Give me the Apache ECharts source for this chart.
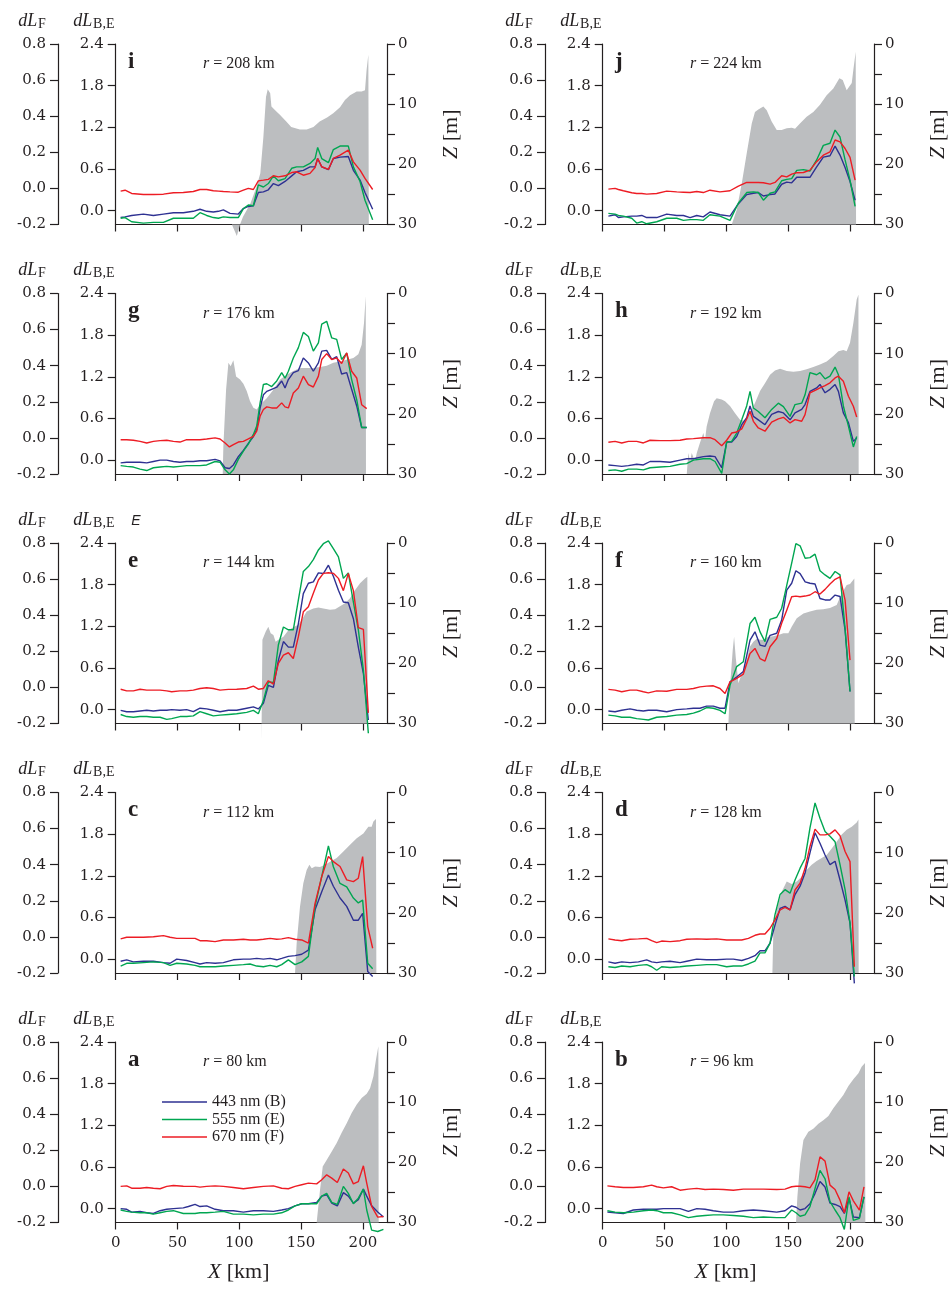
<!DOCTYPE html>
<html>
<head>
<meta charset="utf-8">
<script src="https://cdn.jsdelivr.net/npm/echarts@6.0.0/dist/echarts.min.js"></script>
<style>
html, body { margin: 0; padding: 0; background: #fff; }
#chart { width: 951px; height: 1295px; }
</style>
</head>
<body>
<div id="chart"></div>
<script>
// tick values
const xTicks = [0, 50, 100, 150, 200];
const fTicks = [-0.2, 0, 0.2, 0.4, 0.6, 0.8];
const beTicks = [0, 0.6, 1.2, 1.8, 2.4];
const zTicks = [0, 5, 10, 15, 20, 25, 30];
const zLabels = [0, 10, 20, 30];
const names = ['443 nm (B)', '555 nm (E)', '670 nm (F)'];

// panel i, r = 208 km
const iX = [4, 7.6, 12.9, 22.4, 30.5, 38.6, 46.7, 54.7, 62.8, 68.2, 73.6, 79, 83.1, 87.1, 92.5, 99.2, 103.3, 107.3, 111.4, 115.4, 119.5, 123.5, 127.6, 131.6, 137, 142.4, 146.4, 151.8, 157.2, 161.3, 163.4, 166.7, 172.1, 176.1, 181.5, 188.2, 192.3, 197.7, 201.7, 207.9];
const iB = [-0.10, -0.09, -0.07, -0.05, -0.07, -0.05, -0.03, -0.03, -0.01, 0.02, -0.01, -0.02, -0.01, 0.01, -0.04, -0.05, 0.03, 0.06, 0.07, 0.26, 0.27, 0.30, 0.39, 0.36, 0.42, 0.50, 0.56, 0.58, 0.63, 0.63, 0.75, 0.63, 0.59, 0.75, 0.77, 0.78, 0.58, 0.44, 0.26, 0.02];
const iE = [-0.11, -0.10, -0.16, -0.18, -0.17, -0.17, -0.11, -0.11, -0.11, -0.03, -0.07, -0.10, -0.11, -0.09, -0.10, -0.10, 0.03, 0.08, 0.07, 0.37, 0.34, 0.39, 0.50, 0.43, 0.46, 0.61, 0.63, 0.63, 0.68, 0.75, 0.91, 0.75, 0.69, 0.88, 0.93, 0.93, 0.63, 0.42, 0.15, -0.13];
const iF = [-0.015, -0.01, -0.028, -0.034, -0.034, -0.032, -0.024, -0.023, -0.017, -0.006, -0.006, -0.013, -0.015, -0.017, -0.019, -0.021, -0.01, 0.0, -0.006, 0.042, 0.046, 0.05, 0.07, 0.064, 0.07, 0.088, 0.092, 0.073, 0.083, 0.116, 0.166, 0.12, 0.105, 0.166, 0.184, 0.212, 0.147, 0.101, 0.055, -0.006];
const iDX = [94, 98, 100.6, 103, 109, 114, 117, 119.5, 121.6, 123, 125, 126, 129, 133, 138, 142, 149, 154.5, 160, 165, 171, 176, 181.5, 185.5, 189.6, 195, 199, 201.7, 203, 204.4, 204.8];
const iDZ = [30, 31.9, 30, 28.7, 26.5, 23.7, 21.5, 15.4, 8.8, 7.5, 8.2, 10.4, 11.0, 11.8, 12.9, 13.8, 14.2, 14.2, 13.8, 12.9, 12.2, 11.5, 10.5, 9.3, 8.5, 7.9, 7.9, 7.7, 4.3, 1.8, 30];

// panel j, r = 224 km
const jX = [4.6, 10, 12.7, 16.7, 23.5, 27.5, 31.6, 35.6, 43.7, 51.8, 59.9, 65.3, 70.7, 76.1, 81.4, 86.8, 94.9, 103, 109.8, 116.5, 121.9, 125.9, 130, 135.4, 139.4, 144.8, 148.9, 152.9, 157, 162.4, 167.7, 173.1, 178.5, 183.9, 188, 192, 196.1, 200.1, 204.2];
const jB = [-0.08, -0.06, -0.10, -0.09, -0.08, -0.08, -0.07, -0.10, -0.10, -0.05, -0.07, -0.07, -0.10, -0.07, -0.09, -0.02, -0.06, -0.08, 0.10, 0.23, 0.25, 0.26, 0.21, 0.23, 0.24, 0.38, 0.41, 0.40, 0.48, 0.48, 0.48, 0.63, 0.77, 0.79, 0.93, 0.80, 0.62, 0.42, 0.15];
const jE = [-0.04, -0.05, -0.07, -0.08, -0.11, -0.18, -0.16, -0.19, -0.16, -0.11, -0.11, -0.14, -0.13, -0.13, -0.14, -0.06, -0.08, -0.14, 0.11, 0.26, 0.27, 0.26, 0.15, 0.25, 0.27, 0.43, 0.45, 0.46, 0.58, 0.59, 0.57, 0.73, 0.94, 0.97, 1.16, 1.06, 0.73, 0.44, 0.06];
const jF = [-0.004, 0.0, -0.006, -0.013, -0.024, -0.028, -0.028, -0.032, -0.028, -0.015, -0.019, -0.021, -0.023, -0.017, -0.023, -0.010, -0.019, -0.013, 0.013, 0.033, 0.033, 0.033, 0.031, 0.024, 0.033, 0.070, 0.064, 0.079, 0.087, 0.088, 0.101, 0.148, 0.184, 0.203, 0.268, 0.258, 0.221, 0.172, 0.046];
const jDX = [104.4, 108.4, 112.5, 116.5, 120.6, 123.2, 125.9, 130, 132.7, 136.7, 140.8, 144.8, 148.9, 152.9, 155.6, 159.6, 165, 170.4, 175.8, 181.2, 186.6, 191.5, 194.2, 197.4, 198.8, 201.5, 202.8, 204.7, 205];
const jDZ = [30, 27.6, 23.2, 18.2, 13.2, 11.3, 10.9, 10.4, 11.0, 12.9, 14.3, 14.3, 14.0, 13.9, 14.1, 13.2, 12.1, 11.3, 10.1, 8.5, 7.4, 5.7, 6.0, 7.7, 7.9, 6.5, 4.3, 1.3, 30];

// panel g, r = 176 km
const gX = [4, 8.9, 14.3, 19.7, 25.1, 30.5, 35.9, 41.3, 46.7, 52, 57.4, 62.8, 68.2, 73.6, 80.4, 84.4, 88.5, 92, 95.2, 99.2, 103.3, 107.3, 111.4, 114.1, 116.8, 119.5, 122.2, 126.2, 130.3, 134.3, 137, 139.7, 143.7, 147.8, 151.8, 155.9, 159.9, 164, 166.7, 170.7, 174.8, 178.8, 182.8, 186.9, 190.9, 195, 199, 203.1];
const gB = [-0.04, -0.03, -0.03, -0.03, -0.04, -0.02, 0.0, 0.0, -0.02, -0.03, -0.02, -0.02, -0.01, -0.01, 0.01, -0.01, -0.11, -0.12, -0.07, 0.05, 0.14, 0.24, 0.34, 0.44, 0.75, 0.94, 0.99, 1.02, 1.05, 1.14, 1.04, 1.16, 1.26, 1.29, 1.47, 1.40, 1.28, 1.40, 1.57, 1.58, 1.45, 1.49, 1.24, 1.26, 1.02, 0.78, 0.47, 0.47];
const gE = [-0.08, -0.09, -0.10, -0.13, -0.15, -0.11, -0.10, -0.09, -0.10, -0.09, -0.08, -0.08, -0.08, -0.07, -0.02, -0.03, -0.14, -0.20, -0.14, 0.01, 0.13, 0.23, 0.37, 0.49, 0.82, 1.09, 1.10, 1.06, 1.14, 1.26, 1.18, 1.28, 1.47, 1.62, 1.84, 1.78, 1.57, 1.69, 1.96, 2.00, 1.76, 1.74, 1.45, 1.54, 1.16, 0.87, 0.47, 0.47];
const gF = [-0.01, -0.01, -0.013, -0.019, -0.028, -0.019, -0.015, -0.013, -0.019, -0.023, -0.01, -0.01, -0.01, -0.006, 0.0, -0.006, -0.028, -0.05, -0.037, -0.023, -0.019, -0.006, 0.009, 0.037, 0.12, 0.157, 0.172, 0.166, 0.166, 0.194, 0.172, 0.166, 0.249, 0.277, 0.342, 0.295, 0.282, 0.342, 0.434, 0.467, 0.434, 0.443, 0.412, 0.471, 0.369, 0.332, 0.184, 0.162];
const gDX = [86.6, 87.1, 89.3, 91.2, 93.0, 95.2, 97.4, 100.6, 103.3, 106.0, 108.7, 111.4, 114.1, 116.8, 122.2, 127.6, 133.0, 138.4, 143.7, 149.1, 154.5, 159.9, 165.3, 170.7, 176.1, 181.5, 186.9, 192.3, 196.3, 199.0, 200.9, 202.3, 202.5];
const gDZ = [30, 25.4, 16.0, 11.5, 12.1, 11.1, 13.8, 14.3, 15.0, 16.2, 17.9, 19.0, 19.3, 18.5, 17.4, 16.0, 14.3, 13.5, 12.9, 12.4, 12.4, 12.4, 12.2, 12.0, 11.5, 11.3, 11.0, 10.7, 10.1, 8.5, 4.9, 0.4, 30];

// panel h, r = 192 km
const hX = [4.6, 10, 15.4, 20.8, 27.5, 32.9, 38.3, 46.4, 54.5, 62.6, 68, 73.4, 81.4, 86.8, 90.9, 96.3, 100.3, 104.4, 108.4, 112.5, 116.5, 119.2, 121.9, 125.9, 131.3, 136.7, 142.1, 146.2, 151.6, 155.6, 161, 163.7, 167.7, 173.1, 175.8, 179.9, 183.9, 188, 190.7, 194.7, 198.8, 202.8, 205.5];
const hB = [-0.07, -0.08, -0.09, -0.08, -0.06, -0.07, -0.02, -0.02, -0.03, 0.00, 0.02, 0.02, 0.05, 0.06, 0.05, -0.11, 0.26, 0.26, 0.34, 0.51, 0.61, 0.78, 0.63, 0.58, 0.51, 0.66, 0.70, 0.68, 0.58, 0.68, 0.73, 0.80, 0.99, 1.04, 1.09, 0.97, 1.02, 1.09, 0.99, 0.68, 0.54, 0.27, 0.32];
const hE = [-0.15, -0.14, -0.16, -0.13, -0.13, -0.14, -0.11, -0.10, -0.09, -0.06, -0.05, 0.00, 0.02, 0.02, -0.02, -0.19, 0.26, 0.27, 0.39, 0.58, 0.78, 0.99, 0.75, 0.70, 0.61, 0.73, 0.82, 0.77, 0.63, 0.80, 0.82, 0.94, 1.26, 1.23, 1.26, 1.17, 1.21, 1.34, 1.23, 0.78, 0.49, 0.19, 0.34];
const hF = [-0.024, -0.019, -0.028, -0.019, -0.019, -0.028, -0.013, -0.015, -0.015, -0.013, -0.006, -0.004, 0.001, 0.001, -0.01, -0.043, -0.013, 0.027, 0.033, 0.05, 0.105, 0.148, 0.092, 0.055, 0.037, 0.087, 0.105, 0.114, 0.083, 0.101, 0.092, 0.129, 0.249, 0.268, 0.277, 0.29, 0.305, 0.332, 0.342, 0.314, 0.231, 0.175, 0.116];
const hDX = [68, 69.3, 70.7, 72, 74.7, 76.1, 78.7, 81.4, 82.8, 84.1, 86.8, 90.1, 92.2, 96.3, 99, 103, 107.1, 111.1, 115.2, 119.2, 123.2, 127.3, 131.3, 135.4, 139.4, 143.5, 148.9, 154.3, 159.7, 165, 170.4, 175.8, 181.2, 186.6, 190.7, 194.7, 197.4, 200.1, 202.8, 205.5, 206.9, 207.1];
const hDZ = [30, 26.5, 27.9, 26.5, 27.9, 26.5, 24.8, 23.2, 24.3, 22.1, 19.9, 17.9, 17.4, 17.6, 17.9, 18.7, 19.9, 21.0, 21.2, 19.9, 18.2, 16.2, 14.9, 13.5, 12.8, 12.5, 12.9, 13.0, 12.9, 12.6, 12.2, 11.8, 11.3, 10.4, 9.6, 9.4, 9.6, 8.2, 4.9, 1.0, 0.2, 30];

// panel e, r = 144 km
const eX = [4, 8.9, 14.3, 19.7, 25.1, 30.5, 35.9, 41.3, 45.3, 52, 57.4, 62.8, 68.2, 73.6, 79, 84.4, 91.2, 97.9, 106, 111.4, 115.4, 119.5, 123.5, 127.6, 131.6, 135.7, 139.7, 143.7, 147.8, 151.8, 155.9, 159.9, 164, 168, 172.1, 176.1, 180.2, 184.2, 188.2, 192.3, 196.3, 200.4, 204.4];
const eB = [-0.01, -0.03, -0.03, -0.02, -0.01, -0.02, -0.01, -0.01, 0.00, -0.01, 0.00, -0.03, 0.02, 0.01, -0.01, -0.03, -0.01, -0.01, 0.02, 0.04, 0.01, 0.09, 0.35, 0.32, 0.71, 0.98, 0.90, 0.90, 1.24, 1.67, 1.82, 1.84, 1.97, 1.96, 2.08, 1.92, 1.72, 1.55, 1.54, 1.31, 0.90, 0.52, -0.15];
const eE = [-0.07, -0.10, -0.11, -0.10, -0.10, -0.11, -0.11, -0.14, -0.13, -0.10, -0.10, -0.09, -0.03, -0.06, -0.09, -0.08, -0.07, -0.06, -0.04, -0.01, -0.06, 0.13, 0.40, 0.39, 0.93, 1.19, 1.15, 1.15, 1.58, 1.99, 2.06, 2.16, 2.30, 2.39, 2.43, 2.32, 2.20, 1.89, 1.97, 1.55, 1.15, 0.57, -0.34];
const eF = [-0.01, -0.019, -0.019, -0.01, -0.015, -0.015, -0.015, -0.019, -0.024, -0.019, -0.019, -0.015, -0.006, -0.002, -0.006, -0.015, -0.011, -0.01, -0.006, 0.007, -0.01, -0.006, 0.037, 0.018, 0.133, 0.179, 0.192, 0.16, 0.281, 0.419, 0.447, 0.521, 0.595, 0.632, 0.635, 0.632, 0.604, 0.536, 0.632, 0.536, 0.331, 0.321, -0.141];
const eDX = [117.9, 118.7, 121.4, 123.5, 125.4, 127.6, 129.4, 131.6, 135.7, 139.7, 143.7, 147.8, 150.5, 154.5, 159.9, 164, 168, 173.4, 177.5, 181.5, 185.5, 189.6, 193.7, 197.7, 201.7, 203.6, 203.9];
const eDZ = [33.3, 16.1, 14.7, 13.9, 15.0, 15.3, 16.4, 16.1, 15.6, 14.5, 14.0, 13.6, 12.8, 11.4, 10.9, 10.7, 10.9, 11.1, 11.0, 10.5, 10.0, 9.2, 7.8, 6.7, 5.9, 5.6, 30];

// panel f, r = 160 km
const fX = [4.6, 10, 15.4, 22.1, 27.5, 32.9, 36.9, 43.7, 51.8, 59.9, 68, 73.4, 78.7, 84.1, 89.5, 94.9, 99, 103, 108.4, 113.8, 119.2, 123.2, 127.3, 131.3, 135.4, 140.8, 144.8, 148.9, 152.9, 156.3, 159.7, 163.8, 167.7, 171.8, 175.8, 179.9, 183.9, 188, 192, 196.1, 200.1];
const fB = [-0.02, -0.03, -0.01, 0.01, -0.01, -0.02, -0.01, -0.01, -0.03, 0.00, 0.01, 0.02, 0.02, 0.05, 0.05, 0.02, 0.02, 0.40, 0.47, 0.55, 1.00, 1.12, 0.93, 0.91, 1.07, 1.10, 1.29, 1.72, 1.82, 2.00, 1.96, 1.84, 1.82, 1.81, 1.60, 1.58, 1.58, 1.65, 1.63, 1.15, 0.26];
const fE = [-0.08, -0.09, -0.11, -0.11, -0.13, -0.14, -0.15, -0.11, -0.10, -0.08, -0.07, -0.05, -0.02, 0.03, 0.02, -0.01, -0.06, 0.35, 0.62, 0.69, 1.24, 1.33, 1.12, 0.98, 1.30, 1.33, 1.46, 1.79, 2.11, 2.39, 2.36, 2.18, 2.19, 2.24, 2.00, 1.94, 1.89, 1.99, 1.94, 1.17, 0.26];
const fF = [-0.011, -0.015, -0.024, -0.015, -0.015, -0.024, -0.03, -0.019, -0.021, -0.011, -0.011, -0.006, 0.003, 0.007, 0.009, -0.006, -0.034, 0.031, 0.05, 0.074, 0.188, 0.216, 0.16, 0.146, 0.225, 0.271, 0.355, 0.428, 0.502, 0.506, 0.502, 0.506, 0.512, 0.53, 0.517, 0.543, 0.573, 0.599, 0.613, 0.484, 0.151];
const fDX = [101.7, 103, 105.2, 106.3, 107.6, 109.8, 111.7, 113.8, 116.5, 119.2, 121.9, 124.6, 127.3, 130, 134, 138.1, 142.1, 146.2, 150.2, 152.9, 157, 162.4, 167.7, 173.1, 178.5, 183.9, 189.3, 193.4, 197.4, 200.1, 203.6, 203.9];
const fDZ = [30, 23.9, 17.8, 15.6, 18.9, 23.3, 22.2, 21.1, 19.5, 17.2, 16.4, 15.9, 16.1, 16.1, 15.6, 15.5, 15.3, 15.0, 15.0, 13.9, 12.5, 11.7, 11.4, 11.1, 11.0, 10.8, 10.3, 8.4, 7.0, 6.8, 5.9, 30];

// panel c, r = 112 km
const cX = [4, 8.9, 14.3, 22.4, 30.5, 38.6, 44, 49.4, 57.4, 64.2, 68.2, 73.6, 80.4, 87.1, 95.2, 103.3, 108.7, 114.1, 119.5, 124.9, 130.3, 134.3, 139.7, 145.1, 150.5, 155.9, 161.3, 166.7, 172.1, 176.1, 181.5, 186.9, 192.3, 196.3, 199.8, 203.9, 207.9];
const cB = [-0.03, -0.01, -0.04, -0.03, -0.03, -0.05, -0.06, 0.00, -0.02, -0.05, -0.07, -0.05, -0.06, -0.05, -0.01, 0.00, 0.00, 0.01, 0.00, 0.01, -0.01, 0.01, 0.04, 0.05, 0.07, 0.13, 0.71, 0.97, 1.21, 1.05, 0.88, 0.76, 0.56, 0.56, 0.66, -0.18, -0.25];
const cE = [-0.10, -0.06, -0.06, -0.05, -0.04, -0.05, -0.09, -0.06, -0.07, -0.09, -0.11, -0.11, -0.11, -0.10, -0.09, -0.08, -0.07, -0.10, -0.11, -0.09, -0.11, -0.08, -0.01, -0.08, -0.04, 0.04, 0.76, 1.19, 1.63, 1.33, 1.09, 1.04, 0.88, 0.81, 0.85, -0.06, -0.14];
const cF = [-0.011, -0.002, -0.002, -0.002, 0.001, 0.007, -0.002, -0.008, -0.008, -0.008, -0.021, -0.021, -0.026, -0.017, -0.017, -0.013, -0.017, -0.017, -0.013, -0.008, -0.013, -0.011, -0.004, -0.013, -0.017, -0.035, 0.186, 0.334, 0.445, 0.417, 0.39, 0.316, 0.306, 0.325, 0.445, 0.057, -0.063];
const cDX = [145.1, 146.4, 149.1, 151.8, 154.5, 156.7, 158.6, 161.3, 165.3, 169.4, 173.4, 178.8, 184.2, 189.6, 195, 200.4, 204.4, 207.1, 208.5, 210.6, 210.9];
const cDZ = [30, 25.1, 19.0, 15.1, 12.9, 12.0, 12.6, 12.3, 12.4, 12.0, 11.5, 10.9, 9.8, 8.7, 7.6, 6.8, 5.7, 5.7, 4.8, 4.4, 30];

// panel d, r = 128 km
const dX = [4.6, 10, 15.4, 22.1, 28.9, 35.6, 39.6, 43.7, 47.7, 54.5, 62.6, 68, 76.1, 84.1, 92.2, 100.3, 105.7, 112.5, 117.9, 123.2, 127.3, 131.3, 135.4, 139.4, 143.5, 147.5, 151.6, 155.6, 159.7, 163.7, 167.7, 171.8, 175.8, 179.9, 183.9, 188, 192, 196.1, 200.1, 203.6];
const dB = [-0.04, -0.06, -0.04, -0.05, -0.04, -0.01, -0.04, -0.05, -0.04, -0.03, -0.05, -0.03, 0.00, -0.01, -0.01, 0.00, 0.00, -0.02, 0.01, 0.05, 0.12, 0.12, 0.23, 0.49, 0.73, 0.76, 0.71, 0.93, 1.05, 1.24, 1.53, 1.82, 1.67, 1.50, 1.36, 1.41, 1.14, 0.85, 0.52, -0.35];
const dE = [-0.11, -0.12, -0.10, -0.11, -0.09, -0.08, -0.11, -0.16, -0.11, -0.12, -0.11, -0.10, -0.09, -0.08, -0.08, -0.11, -0.10, -0.10, -0.07, -0.03, 0.09, 0.09, 0.23, 0.64, 0.93, 1.00, 0.95, 1.14, 1.31, 1.45, 1.89, 2.25, 2.03, 1.84, 1.77, 1.69, 1.36, 1.00, 0.52, -0.25];
const dF = [-0.011, -0.017, -0.021, -0.013, -0.011, -0.008, -0.021, -0.032, -0.023, -0.026, -0.021, -0.013, -0.011, -0.013, -0.011, -0.017, -0.017, -0.017, -0.008, 0.009, 0.016, 0.016, 0.048, 0.094, 0.149, 0.164, 0.149, 0.26, 0.297, 0.38, 0.501, 0.597, 0.565, 0.565, 0.571, 0.593, 0.56, 0.473, 0.417, -0.165];
const dDX = [137.3, 138.1, 140.8, 144.8, 148.9, 152.9, 157, 161, 165, 169.1, 173.1, 177.2, 181.2, 185.3, 189.3, 193.4, 197.4, 201.5, 205.5, 206.9, 207.1];
const dDZ = [30, 22.8, 19.5, 16.5, 14.8, 15.2, 14.8, 14.0, 12.9, 12.0, 11.4, 10.9, 10.4, 9.3, 8.2, 7.0, 6.2, 5.7, 5.0, 4.5, 30];

// panel a, r = 80 km
const aX = [4, 8.9, 12.9, 19.7, 25.1, 30.5, 35.9, 41.3, 46.7, 54.7, 58.8, 64.2, 68.2, 73.6, 80.4, 87.1, 95.2, 103.3, 111.4, 119.5, 127.6, 134.3, 139.7, 145.1, 150.5, 155.9, 162.6, 166.7, 170.7, 174.8, 179.3, 184.2, 188.2, 192.3, 196.3, 200.4, 203.1, 207.1, 212, 216.6];
const aB = [0.00, -0.01, -0.05, -0.04, -0.06, -0.07, -0.03, -0.01, 0.00, 0.01, 0.03, 0.06, 0.03, 0.04, -0.01, -0.03, -0.03, -0.05, -0.03, -0.03, -0.04, -0.02, 0.00, 0.04, 0.07, 0.07, 0.09, 0.18, 0.20, 0.08, 0.04, 0.23, 0.18, 0.08, 0.13, 0.28, 0.18, 0.04, -0.05, -0.12];
const aE = [-0.02, -0.04, -0.05, -0.06, -0.06, -0.08, -0.06, -0.04, -0.03, -0.07, -0.07, -0.07, -0.06, -0.06, -0.05, -0.04, -0.08, -0.08, -0.09, -0.08, -0.08, -0.06, -0.02, 0.04, 0.07, 0.07, 0.07, 0.18, 0.22, 0.09, 0.06, 0.32, 0.22, 0.07, 0.15, 0.28, -0.02, -0.31, -0.33, -0.30];
const aF = [0.0, 0.003, -0.01, -0.01, -0.006, -0.01, -0.013, 0.0, 0.005, 0.001, 0.0, 0.0, -0.004, 0.0, 0.003, 0.0, -0.006, -0.013, -0.006, 0.0, 0.003, -0.01, -0.013, 0.0, 0.009, 0.018, 0.014, 0.037, 0.064, 0.046, 0.022, 0.096, 0.074, 0.014, 0.027, 0.114, 0.018, -0.111, -0.17, -0.167];
const aDX = [162.6, 165.3, 167.5, 170.7, 174.8, 178.8, 182.8, 186.9, 190.9, 195, 199, 203.1, 205.8, 208.5, 210.6, 212.5, 212.8];
const aDZ = [30, 24.6, 20.7, 19.6, 18.2, 16.8, 15.1, 13.5, 11.8, 10.4, 9.3, 8.6, 7.7, 5.7, 2.9, 0.7, 30];

// panel b, r = 96 km
const bX = [3.8, 10, 16.7, 24.8, 32.9, 39.6, 43.7, 49.1, 55.8, 62.6, 69.3, 76.1, 82.8, 89.5, 97.6, 105.7, 113.8, 121.9, 130, 140.8, 147.5, 152.9, 156.4, 159.7, 163.7, 167.7, 171.8, 175.8, 179.9, 183.9, 188, 192, 195.5, 199.3, 202.8, 207.7, 211.4];
const bB = [-0.05, -0.06, -0.07, -0.02, -0.01, -0.01, -0.01, 0.00, 0.00, 0.00, -0.04, 0.00, -0.01, -0.03, -0.05, -0.05, -0.03, -0.02, -0.03, -0.05, -0.03, 0.04, 0.02, -0.02, 0.00, 0.07, 0.22, 0.39, 0.31, 0.08, 0.06, 0.03, -0.07, 0.15, -0.12, -0.13, 0.17];
const bE = [-0.03, -0.05, -0.06, -0.05, -0.03, -0.02, -0.03, -0.06, -0.06, -0.09, -0.13, -0.11, -0.10, -0.09, -0.09, -0.10, -0.11, -0.13, -0.12, -0.13, -0.13, -0.02, -0.06, -0.11, -0.09, 0.03, 0.29, 0.55, 0.43, 0.10, -0.02, -0.13, -0.30, 0.17, -0.17, -0.14, 0.17];
const bF = [0.003, -0.002, -0.006, -0.006, -0.002, 0.007, -0.002, -0.008, -0.002, -0.021, -0.015, -0.011, -0.017, -0.015, -0.017, -0.021, -0.015, -0.015, -0.015, -0.017, -0.015, -0.002, 0.001, 0.001, -0.002, -0.008, 0.038, 0.164, 0.14, 0.007, -0.017, -0.076, -0.146, -0.03, -0.08, -0.132, -0.002];
const bDX = [156.4, 157.5, 159.7, 162.4, 166.4, 170.4, 174.5, 178.5, 182.6, 186.6, 190.7, 194.7, 198.8, 202.8, 206.9, 209.5, 212.2, 212.5];
const bDZ = [30, 25.7, 20.2, 16.3, 14.9, 14.4, 13.6, 13.0, 12.3, 11.0, 9.9, 8.8, 7.3, 6.2, 5.2, 4.1, 3.5, 30];

const panels = [
    {key: 'i', r: 208, row: 0, col: 0, X: iX, B: iB, E: iE, F: iF, DX: iDX, DZ: iDZ},
    {key: 'j', r: 224, row: 0, col: 1, X: jX, B: jB, E: jE, F: jF, DX: jDX, DZ: jDZ},
    {key: 'g', r: 176, row: 1, col: 0, X: gX, B: gB, E: gE, F: gF, DX: gDX, DZ: gDZ},
    {key: 'h', r: 192, row: 1, col: 1, X: hX, B: hB, E: hE, F: hF, DX: hDX, DZ: hDZ},
    {key: 'e', r: 144, row: 2, col: 0, X: eX, B: eB, E: eE, F: eF, DX: eDX, DZ: eDZ},
    {key: 'f', r: 160, row: 2, col: 1, X: fX, B: fB, E: fE, F: fF, DX: fDX, DZ: fDZ},
    {key: 'c', r: 112, row: 3, col: 0, X: cX, B: cB, E: cE, F: cF, DX: cDX, DZ: cDZ},
    {key: 'd', r: 128, row: 3, col: 1, X: dX, B: dB, E: dE, F: dF, DX: dDX, DZ: dDZ},
    {key: 'a', r: 80, row: 4, col: 0, X: aX, B: aB, E: aE, F: aF, DX: aDX, DZ: aDZ},
    {key: 'b', r: 96, row: 4, col: 1, X: bX, B: bB, E: bE, F: bF, DX: bDX, DZ: bDZ}
];

const SERIF = '"Liberation Serif", "Times New Roman", serif';
const TICKFONT = '"DejaVu Serif", serif';
const INK = '#231f20';
const BLUE = '#2e3192', GREEN = '#00a651', RED = '#ed1c24', GRAY = '#bcbec0';

const colLeft = [115.7, 602.7];
const rowTop = [44, 293.5, 543, 792.5, 1042];
const W = 271.3, H = 180.5;

const zip = (xs, ys) => xs.map((x, i) => [x, ys[i]]);
const axisLine = {show: true, onZero: false, lineStyle: {color: INK, width: 1.2}};
const tickStyle = {color: INK, width: 1.2};
const labelStyle = {color: INK, fontFamily: TICKFONT, fontSize: 15};

function txt(x, y, text, st, extra) {
    return Object.assign({
        type: 'text', x: x, y: y, silent: true,
        style: Object.assign({
            text: text, fill: INK, fontFamily: SERIF, fontSize: 16,
            align: 'left', verticalAlign: 'middle'
        }, st)
    }, extra || {});
}

const grid = [], xAxis = [], yAxis = [], series = [], graphic = [];

panels.forEach((p, k) => {
    const L = colLeft[p.col], T = rowTop[p.row];
    const bottomRow = p.row === 4;
    grid.push({left: L, top: T, width: W, height: H});
    xAxis.push({
        type: 'value', gridIndex: k, min: 0, max: 219.5,
        axisLine: axisLine,
        axisTick: {show: true, length: 7, customValues: xTicks, lineStyle: tickStyle},
        axisLabel: Object.assign({show: bottomRow, customValues: xTicks, margin: 13}, labelStyle),
        splitLine: {show: false}
    });
    yAxis.push({
        type: 'value', gridIndex: k, position: 'left', offset: 57.7, min: -0.2, max: 0.8,
        axisLine: axisLine,
        axisTick: {show: true, length: 8, customValues: fTicks, lineStyle: tickStyle},
        axisLabel: Object.assign({customValues: fTicks, margin: 12, formatter: v => v.toFixed(1)}, labelStyle),
        splitLine: {show: false}
    });
    yAxis.push({
        type: 'value', gridIndex: k, position: 'left', min: -0.2, max: 2.4,
        axisLine: axisLine,
        axisTick: {show: true, length: 8, customValues: beTicks, lineStyle: tickStyle},
        axisLabel: Object.assign({customValues: beTicks, margin: 12, formatter: v => v.toFixed(1)}, labelStyle),
        splitLine: {show: false}
    });
    yAxis.push({
        type: 'value', gridIndex: k, position: 'right', inverse: true, min: 0, max: 30,
        axisLine: axisLine,
        axisTick: {show: true, length: 8, customValues: zTicks, lineStyle: tickStyle},
        axisLabel: Object.assign({customValues: zLabels, margin: 11}, labelStyle),
        splitLine: {show: false}
    });

    series.push({
        type: 'line', xAxisIndex: k, yAxisIndex: 3 * k + 2, data: zip(p.DX, p.DZ),
        symbol: 'none', clip: false, silent: true, z: 1,
        lineStyle: {width: 0, color: GRAY},
        areaStyle: {color: GRAY, opacity: 1, origin: 'end'}
    });
    [[p.B, BLUE, 1], [p.E, GREEN, 1], [p.F, RED, 0]].forEach((s, j) => {
        series.push({
            name: names[j], type: 'line', xAxisIndex: k, yAxisIndex: 3 * k + s[2],
            data: zip(p.X, s[0]), symbol: 'none', clip: false, z: 3,
            color: s[1], lineStyle: {color: s[1], width: 1.4}
        });
    });

    // panel letter and radius
    graphic.push(txt(L + 12.3, T + 18, p.key, {fontWeight: 'bold', fontSize: 23}));
    graphic.push(txt(L + 87.3, T + 20, '{i|r}{n| = ' + p.r + ' km}', {
        rich: {
            i: {fontStyle: 'italic', fontSize: 16, fontFamily: SERIF},
            n: {fontSize: 16, fontFamily: SERIF}
        }
    }));
    // axis titles
    graphic.push(txt(L - 97.4, T - 23, 'dL', {fontStyle: 'italic', fontSize: 18}));
    graphic.push(txt(L - 77.6, T - 20, 'F', {fontSize: 14}));
    graphic.push(txt(L - 42.4, T - 23, 'dL', {fontStyle: 'italic', fontSize: 18}));
    graphic.push(txt(L - 22.6, T - 20, 'B,E', {fontSize: 14}));
    graphic.push(txt(L + 336, T + H / 2, '{i|Z}{n| [m]}', {
        align: 'center',
        rich: {
            i: {fontStyle: 'italic', fontSize: 22, fontFamily: SERIF},
            n: {fontSize: 22, fontFamily: SERIF}
        }
    }, {rotation: Math.PI / 2}));
    if (p.key === 'e') {
        graphic.push(txt(L + 15.5, T - 22, 'E', {fontStyle: 'italic', fontSize: 14, fontFamily: '"Liberation Sans", Arial, sans-serif'}));
    }
    if (bottomRow) {
        graphic.push(txt(L + 123, 1272, '{i|X}{n| [km]}', {
            align: 'center',
            rich: {
                i: {fontStyle: 'italic', fontSize: 22, fontFamily: SERIF},
                n: {fontSize: 22, fontFamily: SERIF}
            }
        }));
    }
});

const chart = echarts.init(document.getElementById('chart'), null, {renderer: 'canvas'});
chart.setOption({
    animation: false,
    backgroundColor: '#ffffff',
    textStyle: {fontFamily: SERIF, color: INK},
    grid: grid,
    xAxis: xAxis,
    yAxis: yAxis,
    legend: {
        data: names, orient: 'vertical', left: 162, top: 1094,
        icon: 'rect', itemWidth: 45, itemHeight: 1.6, itemGap: 1.5, padding: 0,
        selectedMode: false,
        textStyle: {fontFamily: SERIF, fontSize: 16, color: INK, lineHeight: 16}
    },
    series: series,
    graphic: {elements: graphic}
});
</script>
</body>
</html>
